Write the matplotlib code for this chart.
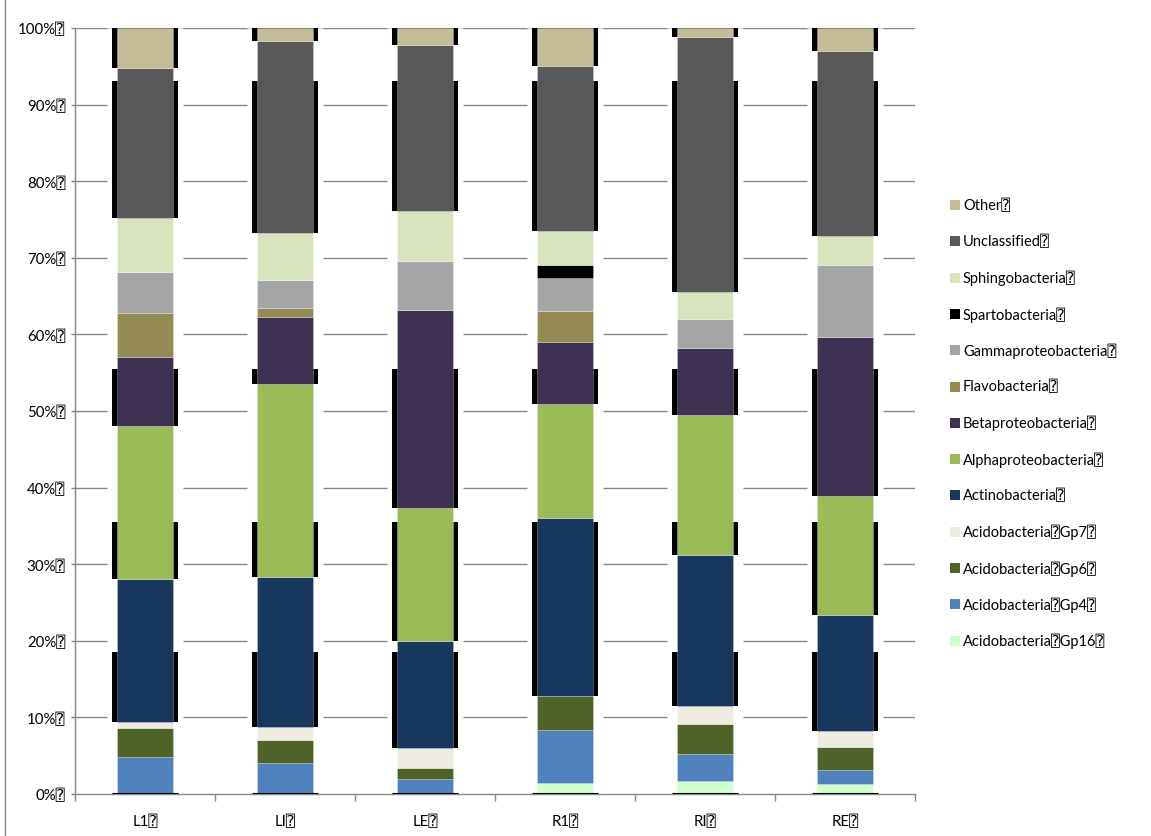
import matplotlib
matplotlib.use("Agg")
import matplotlib.pyplot as plt
from matplotlib.patches import Rectangle
from matplotlib.lines import Line2D
import numpy as np

# ---- data (percent of reads per sample) ----
samples = ["L1", "LI", "LE", "R1", "RI", "RE"]

gp16 = [0.0, 0.0, 0.0, 1.5, 1.7, 1.3]
gp4 = [4.8, 4.0, 1.9, 6.8, 3.5, 1.8]
gp6 = [3.8, 3.0, 1.5, 4.5, 3.9, 3.0]
gp7 = [0.8, 1.7, 2.6, 0.0, 2.4, 2.1]
actino = [18.7, 19.6, 14.0, 23.2, 19.7, 15.2]
alpha = [19.9, 25.2, 17.3, 14.9, 18.3, 15.5]
beta = [9.0, 8.8, 25.9, 8.1, 8.7, 20.8]
flavo = [5.8, 1.1, 0.0, 4.1, 0.0, 0.0]
gamma = [5.3, 3.7, 6.4, 4.3, 3.8, 9.4]
sparto = [0.0, 0.0, 0.0, 1.7, 0.0, 0.0]
sphingo = [7.1, 6.1, 6.5, 4.4, 3.5, 3.7]
unclassified = [19.6, 25.1, 21.7, 21.5, 33.3, 24.2]
other = [5.2, 1.7, 2.2, 5.0, 1.2, 3.0]

# stacking order, bottom to top
series = [
    ("Acidobacteria Gp16", gp16, "#CCFFCC"),
    ("Acidobacteria Gp4", gp4, "#4F81BD"),
    ("Acidobacteria Gp6", gp6, "#4F6228"),
    ("Acidobacteria Gp7", gp7, "#EEECE1"),
    ("Actinobacteria", actino, "#17375E"),
    ("Alphaproteobacteria", alpha, "#9BBB59"),
    ("Betaproteobacteria", beta, "#3F3151"),
    ("Flavobacteria", flavo, "#948A54"),
    ("Gammaproteobacteria", gamma, "#A5A5A5"),
    ("Spartobacteria", sparto, "#000000"),
    ("Sphingobacteria", sphingo, "#D7E4BD"),
    ("Unclassified", unclassified, "#595959"),
    ("Other", other, "#C4BD97"),
]

y_ticks = list(range(0, 101, 10))
MARK = "\u2370"   # placeholder glyph shown after each label
FONT = ["Lato", "DejaVu Sans Mono", "DejaVu Sans"]

# ---- figure ----
W, H = 1151, 837
fig = plt.figure(figsize=(W / 100, H / 100), dpi=100)
plt.rcParams["font.family"] = FONT
ax = fig.add_axes([75 / W, 1 - 795 / H, 840 / W, 766 / H])

x = np.arange(len(samples)) + 0.5
bar_w = 0.4
pad = 5 / 140      # dark edge band
gap = 10 / 140     # clear space around each bar

# gridlines only in the gaps between bars
edges = [0.0]
for xi in x:
    edges += [xi - bar_w / 2 - gap, xi + bar_w / 2 + gap]
edges.append(float(len(samples)))
seg_l = edges[0::2]
seg_r = edges[1::2]
ax.axhline(100, color="#D9D9D9", lw=1, zorder=0.4)
for v in y_ticks[1:]:
    ax.hlines([v] * len(seg_l), seg_l, seg_r, color="#878787", lw=1,
              zorder=0.5)

vals = np.array([s[1] for s in series], dtype=float)
vals = vals / vals.sum(axis=0) * 100
cum = np.vstack([np.zeros(len(samples)), np.cumsum(vals, axis=0)])

# dark side bands, each running down to the next segment boundary
band_starts = [100.0, 93.1, 55.5, 35.5, 18.5]
for i in range(len(samples)):
    for s in band_starts:
        k = np.searchsorted(cum[1:, i], s - 1e-9)
        k = min(k, len(series) - 1)
        lower = cum[k, i]
        ax.bar(x[i], s - lower, width=bar_w + 2 * pad, bottom=lower,
               color="black", zorder=2, linewidth=0)
    ax.hlines(0, x[i] - bar_w / 2 - pad, x[i] + bar_w / 2 + pad,
              color="black", lw=2.2, zorder=4)

for j, (name, _, color) in enumerate(series):
    ax.bar(x, vals[j], width=bar_w, bottom=cum[j], color=color,
           edgecolor=(1, 1, 1, 0.35), linewidth=0.5, zorder=3)

ax.set_xlim(0, len(samples))
ax.set_ylim(0, 100)

ax.set_yticks(y_ticks)
ax.set_yticklabels([f"{v}%{MARK}" for v in y_ticks], fontsize=10.8)
ax.tick_params(axis="y", length=3, width=1, color="#878787", pad=4)

ax.set_xticks(np.arange(len(samples) + 1))
ax.set_xticklabels([])
ax.tick_params(axis="x", which="major", length=5, width=1, color="#878787")
ax.set_xticks(x, minor=True)
ax.set_xticklabels([s + MARK for s in samples], minor=True, fontsize=10.8)
ax.tick_params(axis="x", which="minor", length=0, pad=14)

for side in ("left", "bottom"):
    ax.spines[side].set_color("#878787")
    ax.spines[side].set_linewidth(1)
ax.spines["right"].set_visible(False)
ax.spines["top"].set_visible(False)

# ---- legend, top entry first ----
y0, step = 206, 36.3
for n, (name, _, color) in enumerate(reversed(series)):
    yc = y0 + n * step
    fig.add_artist(Rectangle((950 / W, 1 - (yc + 5) / H), 10 / W, 10 / H,
                             transform=fig.transFigure, color=color,
                             linewidth=0))
    fig.text(963 / W, 1 - yc / H, name.replace(" ", MARK) + MARK,
             fontsize=10.5, va="center", ha="left", family=FONT)

# outer frame line
fig.add_artist(Line2D([5 / W, 5 / W], [0, 1], transform=fig.transFigure,
                      color="#878787", lw=1))

fig.savefig("out.png", dpi=100)
